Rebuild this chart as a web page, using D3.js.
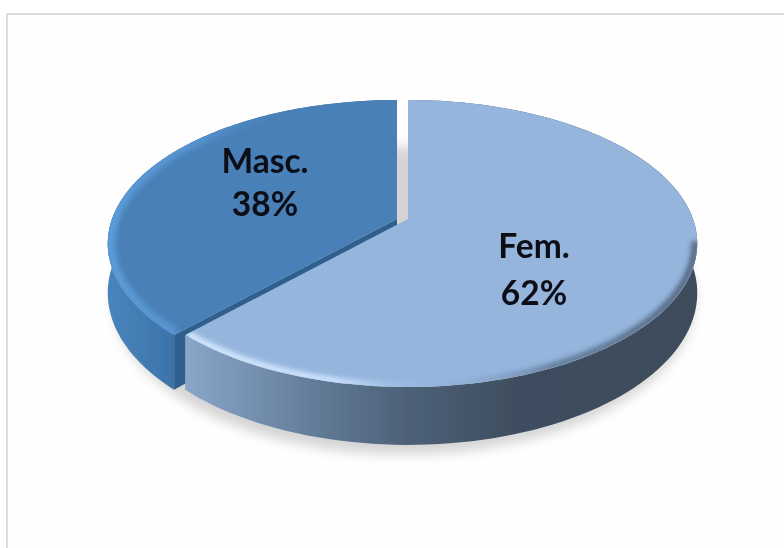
<!DOCTYPE html>
<html>
<head>
<meta charset="utf-8">
<script src="https://cdn.jsdelivr.net/npm/d3@7"></script>
<style>
  html, body { margin: 0; padding: 0; background: #fff; }
  svg { display: block; }
  text { font-family: Lato, "Open Sans", sans-serif; font-weight: 700; font-size: 33.5px; fill: #0b0e14; }
</style>
</head>
<body>
<div id="chart"></div>
<script>
/* --- data ---------------------------------------------------------------- */
const categories = ["Fem.", "Masc."];
const shares = [62, 38];

/* --- layout -------------------------------------------------------------- */
const width = 784, height = 548;
const cx = 408, apexY = 219;      // fem. apex
const horiz = 285, nearY = 168, farY = 119;  // extents of the tilted disc
const depth = 48;
const tilt = (nearY - farY) / (nearY + farY);   // perspective strength
const vert = nearY * (1 - tilt);

// disc point -> screen, angle clockwise from 12 o'clock, drop = how far down the wall
const project = (a, r = 1, dx = 0, drop = 0) => {
  const u = Math.sin(a) * r, v = -Math.cos(a) * r;
  const w = 1 / (1 - tilt * v);
  return [cx + dx + horiz * u * w, apexY + vert * v * w + drop * w];
};
const arcPts = (a0, a1, r, dx, drop) =>
  d3.range(0, 121).map(i => project(a0 + (a1 - a0) * i / 120, r, dx, drop));

const line = d3.line();

const svg = d3.select("#chart").append("svg")
  .attr("width", width).attr("height", height);
const defs = svg.append("defs");

const blur = (id, sd) => defs.append("filter").attr("id", id)
  .attr("x", "-20%").attr("y", "-20%").attr("width", "140%").attr("height", "140%")
  .append("feGaussianBlur").attr("stdDeviation", sd);
blur("soft", 0.7);
blur("rim", 2.6);
blur("shadow", 6);

const gradient = (id, x1, x2, stops) => {
  const g = defs.append("linearGradient").attr("id", id)
    .attr("gradientUnits", "userSpaceOnUse")
    .attr("x1", x1).attr("x2", x2).attr("y1", 0).attr("y2", 0);
  stops.forEach(([o, c, op]) => g.append("stop").attr("offset", o)
    .attr("stop-color", c).attr("stop-opacity", op === undefined ? 1 : op));
};

/* slice look, same order as categories */
const looks = [
  { top: "#95b5dd", wall: "url(#femWall)", rim: "url(#femRim)", dx: 0, rimWidth: 7 },
  { top: "#4a80b7", wall: "url(#mascWall)", rim: "url(#mascRim)", dx: -11, rimWidth: 10 }
];
gradient("femWall", 180, 700, [[0, "#8ba7ca"], [0.12, "#7893b4"], [0.3, "#5d7590"], [0.45, "#4c5f76"], [0.65, "#3e4e5f"], [1, "#3d4c5a"]]);
gradient("mascWall", 104, 185, [[0, "#4b85bd"], [0.6, "#4079b0"], [1, "#3a6fa4"]]);
gradient("femRim", 180, 700, [[0, "#d6eaff", 1], [0.3, "#cfe4ff", 1], [0.42, "#a9c6ec", 0.5], [0.52, "#8aa8cc", 0.2], [0.72, "#566d88", 0.8], [1, "#4a5d75", 0.9]]);
gradient("mascRim", 104, 300, [[0, "#5c9cda", 1], [0.5, "#5694d0", 0.9], [1, "#4a80b7", 0]]);

/* --- frame --------------------------------------------------------------- */
svg.append("rect").attr("width", width).attr("height", height).attr("fill", "#fff");
svg.append("rect").attr("x", 7).attr("y", 14).attr("width", width + 20).attr("height", height + 20)
  .attr("fill", "#fefefe").attr("stroke", "#dcdcdc").attr("stroke-width", 2);

/* --- pie ----------------------------------------------------------------- */
const slices = d3.pie().sort(null)(shares);

// ground shadow
svg.append("path")
  .attr("d", line(arcPts(0, 2 * Math.PI, 1.005, -4, depth + 7)) + "Z")
  .attr("fill", "#000").attr("opacity", 0.16).attr("filter", "url(#shadow)");

const pie = svg.append("g").attr("filter", "url(#soft)");

// masc. first, the fem. slice overlaps its cut face
[1, 0].forEach(i => {
  const s = slices[i], look = looks[i];
  const g = pie.append("g");
  const outer = arcPts(s.startAngle, s.endAngle, 1, look.dx, 0);
  const lower = arcPts(s.startAngle, s.endAngle, 1, look.dx, depth);

  g.append("path").attr("d", line(outer.concat(lower.slice().reverse())) + "Z")
    .attr("fill", look.wall);

  if (i === 1) {
    const apex = project(0, 0, look.dx, 0), apexLow = project(0, 0, look.dx, depth);
    g.append("path").attr("d", line([apex, outer[0], lower[0], apexLow]) + "Z")
      .attr("fill", "#2f5e8d");
  }

  const apexTop = project(0, 0, look.dx, 0);
  g.append("path").attr("d", line([apexTop].concat(outer)) + "Z").attr("fill", look.top);

  // bevel glow along the near rim
  const clipId = "clip" + i;
  defs.append("clipPath").attr("id", clipId).append("path")
    .attr("d", line([apexTop].concat(outer)) + "Z");
  g.append("g").attr("clip-path", `url(#${clipId})`).append("path")
    .attr("d", line(i === 0
      ? arcPts(Math.PI * 0.55, s.endAngle, 0.992, look.dx, 0)
      : arcPts(s.startAngle, Math.PI * 1.85, 0.992, look.dx, 0)))
    .attr("fill", "none").attr("stroke", look.rim)
    .attr("stroke-width", look.rimWidth).attr("filter", "url(#rim)");
});

/* --- labels -------------------------------------------------------------- */
const labelAt = [[534, 258], [265, 173]];
const lineGap = [47, 43];
const labels = svg.append("g").attr("text-anchor", "middle").attr("filter", "url(#soft)");
categories.forEach((c, i) => {
  labels.append("text").attr("x", labelAt[i][0]).attr("y", labelAt[i][1]).text(c);
  labels.append("text").attr("x", labelAt[i][0]).attr("y", labelAt[i][1] + lineGap[i])
    .text(d3.format(".0%")(shares[i] / d3.sum(shares)));
});
</script>
</body>
</html>
